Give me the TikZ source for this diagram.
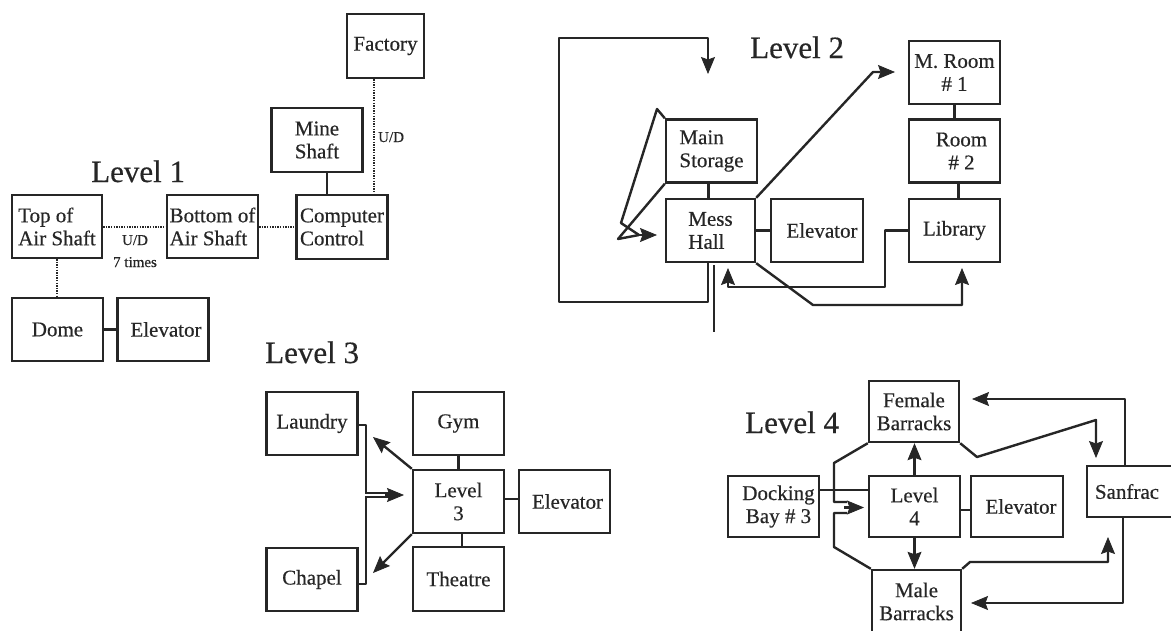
\documentclass[tikz,border=0pt]{standalone}
\usepackage{fontspec}
\setmainfont{Liberation Serif}[FakeBold=0.4]
\usetikzlibrary{arrows.meta,calc}
\begin{document}
\begin{tikzpicture}[x=1pt,y=-1pt,
  box/.style={draw=black!85, line width=2.4pt, minimum width=91pt, minimum height=63pt, inner sep=0pt, align=center, font=\fontsize{21}{23}\selectfont, text=black!85},
  conn/.style={draw=black!85, line width=2.4pt, line join=round},
  dotconn/.style={draw=black!85, line width=2pt, dash pattern=on 1.4pt off 1.2pt},
  dbl/.style={draw=black!85, line width=1.7pt, double=white, double distance=2pt},
  arr/.style={conn, -{Stealth[length=17pt,width=14pt,inset=2.5pt,fill=black!85,line width=0.8pt]}},
  lvl/.style={font=\fontsize{31}{36}\selectfont, text=black!85, inner sep=0pt, anchor=base west},
  small/.style={font=\fontsize{15}{17}\selectfont, text=black!85, inner sep=0pt},
]
\useasboundingbox (0,0) rectangle (1171,630);
\clip (0,0) rectangle (1171,630);
\fill[white] (0,0) rectangle (1171,630);

% ---------------- Level 1 ----------------
\node[box, minimum width=77pt, minimum height=64pt] (factory) at (385.5,46) {Factory};
\node[box, minimum height=64pt] (mine) at (317,140) {Mine\\Shaft};
\node[box, align=left, minimum height=64pt] (comp) at (342,227) {Computer\\Control};
\node[box, align=left] (bottom) at (212.5,226.5) {Bottom of\\Air Shaft};
\node[box, align=left, minimum width=90pt] (top) at (57,226.5) {Top of\\Air Shaft};
\node[box] (dome) at (57.5,329.5) {Dome};
\node[box] (elevA) at (163,329.5) {\hspace*{6pt}Elevator};
\node[lvl] (lv1) at (91,182) {Level 1};
\node[small, anchor=base west] (ud1) at (378,142) {U/D};
\node[small, anchor=base] (ud2) at (135,245) {U/D};
\node[small, anchor=base] (times) at (135,267) {7 times};

\draw[dotconn] (top.east) -- (top.east -| bottom.west);
\draw[dotconn] (bottom.east) -- (bottom.east -| comp.west);
\draw[dotconn] (top.south) -- (top.south |- dome.north);
\coordinate (fz) at ($(factory.south)+(-11.5,0)$);
\draw[dotconn] (fz) -- (fz |- comp.north);
\coordinate (mz) at ($(mine.south)+(10,0)$);
\draw[conn] (mz) -- (mz |- comp.north);
\draw[conn] (dome) -- (elevA);

% ---------------- Level 2 ----------------
\node[box] (mroom) at (954.5,72.5) {M. Room\\\# 1};
\node[box] (room2) at (954.5,151) {\hspace*{14pt}Room\\\hspace*{14pt}\# 2};
\node[box] (library) at (954.5,230.5) {Library};
\node[box, align=left] (mainst) at (711.5,151) {Main\\Storage};
\node[box, align=left, minimum width=89pt] (mess) at (710.5,230.5) {Mess\\Hall};
\node[box, minimum width=92pt] (elevB) at (817,230.5) {\hspace*{10pt}Elevator};
\node[lvl] (lv2) at (750,58) {Level 2};

\draw[conn] (mroom) -- (room2);
\coordinate (r2s) at ($(room2.south)+(4,0)$);
\draw[conn] (r2s) -- (r2s |- library.north);
\coordinate (mss) at ($(mainst.south)+(-3,0)$);
\draw[conn] (mss) -- (mss |- mess.north);
\draw[conn] (mess) -- (elevB);

\coordinate (ms0) at ($(mess.south)+(-2.5,0)$);
\coordinate (loopTip) at (708,74);
\draw[arr] (ms0) |- (559,302) |- (708,38) -- (loopTip);

\coordinate (zb) at (639,235);
\coordinate (zt) at (657,235);
\draw[conn] (mainst.north west) -- (657,109) -- (621,223) -- (zb);
\draw[conn] (mainst.south west) -- (618,239) -- (zb);
\draw[arr] (zb) -- (zt);

\coordinate (mrTip) at (895,72);
\draw[arr] (mess.north east) -- (873,72) -- (mrTip);

\coordinate (messTip) at (728,268);
\draw[arr] (library.west) -| (885,287) -| (messTip);

\coordinate (libTip) at (962,268);
\draw[arr] (mess.south east) -- (813,305) -| (libTip);

\coordinate (vA) at (714,265);
\coordinate (vB) at (714,332);
\draw[conn] (vA) -- (vB);

% ---------------- Level 3 ----------------
\node[box] (laundry) at (312,423.5) {Laundry};
\node[box] (chapel) at (312,579.5) {Chapel};
\node[box] (gym) at (458.5,423.5) {Gym};
\node[box] (lev3) at (458.5,501.5) {Level\\3};
\node[box, minimum height=64pt] (theatre) at (458.5,579) {Theatre};
\node[box] (elevC) at (564.5,501.5) {\hspace*{6pt}Elevator};
\node[lvl] (lv3) at (265,363) {Level 3};

\draw[conn] (gym) -- (lev3);
\coordinate (l3s) at ($(lev3.south)+(3.5,0)$);
\draw[conn] (l3s) -- (l3s |- theatre.north);
\coordinate (l3e) at ($(lev3.east)+(0,-2.5)$);
\draw[conn] (l3e) -- (l3e -| elevC.west);
\draw[conn] ($(laundry.east)+(0,1.5)$) -- ++(7,0) |- ($(chapel.east)+(0,4.5)$);
\coordinate (dblS) at (365,495);
\coordinate (dblE) at (390,495);
\coordinate (dblA) at (385,495);
\coordinate (dblT) at (404,495);
\draw[dbl] (dblS) -- (dblE);
\draw[arr] (dblA) -- (dblT);
\coordinate (l3tU) at (373,437);
\coordinate (l3tD) at (373,573);
\draw[arr] (lev3.north west) -- (l3tU);
\draw[arr] (lev3.south west) -- (l3tD);

% ---------------- Level 4 ----------------
\node[box, minimum width=90pt, minimum height=61pt] (female) at (914,411.5) {Female\\Barracks};
\node[box, minimum height=61pt] (dock) at (773.5,506.5) {\hspace*{10pt}Docking\\\hspace*{10pt}Bay \# 3};
\node[box, minimum height=61pt] (lev4) at (914.5,506.5) {Level\\4};
\node[box, minimum width=92pt, minimum height=61pt] (elevD) at (1017,506.5) {\hspace*{8pt}Elevator};
\node[box, minimum width=100pt, minimum height=51pt] (sanfrac) at (1137,491.5) {Sanfrac\hspace*{20pt}};
\node[box, minimum width=89pt] (male) at (916.5,601.5) {Male\\Barracks};
\node[lvl] (lv4) at (745,433) {Level 4};

\coordinate (dk) at ($(dock.east)+(0,-16.5)$);
\draw[conn] (dk) -- (dk -| lev4.west);
\draw[arr] (lev4.north) -- (lev4.north |- female.south);
\draw[arr] (lev4.south) -- (lev4.south |- male.north);
\coordinate (le) at ($(lev4.east)+(0,3.5)$);
\draw[conn] (le) -- (le -| elevD.west);

\coordinate (oUb) at (847,502);
\coordinate (oLb) at (847,513);
\coordinate (oA) at (844,507.5);
\coordinate (oT) at (864,507.5);
\draw[conn] (female.south west) -- (834,463) -- (834,502) -- (oUb);
\draw[conn] (male.north west) -- (834,547) -- (834,513) -- (oLb);
\draw[arr] (oA) -- (oT);

\coordinate (sfTipA) at (1096,458);
\draw[arr] (female.south east) -- (977,457) -- (1096,420) -- (sfTipA);
\coordinate (sfn) at ($(sanfrac.north west)+(39,0)$);
\coordinate (femTip) at (972,399);
\draw[arr] (sfn) |- (femTip);
\coordinate (sfs) at ($(sanfrac.south west)+(37,0)$);
\coordinate (maleTip) at (971,603);
\draw[arr] (sfs) |- (maleTip);
\coordinate (sfTipB) at (1108,537);
\draw[arr] (male.north east) -- (970,562) -| (sfTipB);
\end{tikzpicture}
\end{document}
